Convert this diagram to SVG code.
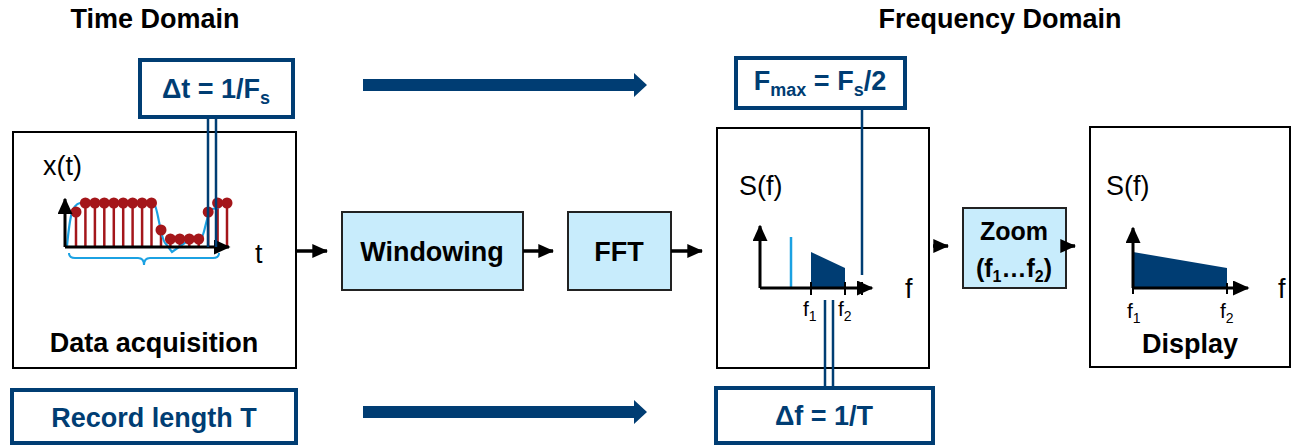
<svg xmlns="http://www.w3.org/2000/svg" width="1293" height="445" viewBox="0 0 1293 445">
<style>
text{font-family:"Liberation Sans",Arial,sans-serif;}
.b{font-weight:bold;}
.lbl{font-size:27px;fill:#000;}
.blue{fill:#003d73;}
.box{fill:#fff;stroke:#000;stroke-width:2;}
.proc{fill:#c8ecfc;stroke:#222;stroke-width:2;}
.note{fill:#fff;stroke:#003d73;stroke-width:4;}
.dl{stroke:#003d73;stroke-width:2.5;fill:none;}
.conn{stroke:#000;stroke-width:3.5;fill:none;}
.ax{stroke:#000;stroke-width:3;fill:none;}
.stem{stroke:#a4161a;stroke-width:2.5;}
.dot{fill:#a4161a;}
</style>
<defs>
<marker id="ah" markerWidth="5.5" markerHeight="5" refX="5" refY="2.5" orient="auto" markerUnits="strokeWidth"><path d="M0,0 L5.5,2.5 L0,5 Z" fill="#000"/></marker>
<marker id="ch" markerWidth="4.5" markerHeight="4" refX="4.2" refY="2" orient="auto" markerUnits="strokeWidth"><path d="M0,0 L4.5,2 L0,4 Z" fill="#000"/></marker>
</defs>

<text class="lbl b" x="155" y="28" text-anchor="middle">Time Domain</text>
<text class="lbl b" x="1000" y="28" text-anchor="middle">Frequency Domain</text>

<g id="big-arrows">
<path d="M363,79 H634 V73 L647,85 L634,97 V91 H363 Z" class="blue"/>
<path d="M363,406 H634 V400 L647,412 L634,424 V418 H363 Z" class="blue"/>
</g>

<g id="data-acquisition">
<rect class="box" x="13" y="132" width="283" height="236"/>
<text class="lbl" x="43" y="175" font-size="27">x(t)</text>
<text class="lbl" x="255" y="263">t</text>
<g>
<line class="stem" x1="76" y1="247" x2="76" y2="212"/>
<line class="stem" x1="85.4" y1="247" x2="85.4" y2="203"/>
<line class="stem" x1="94.9" y1="247" x2="94.9" y2="203"/>
<line class="stem" x1="104.3" y1="247" x2="104.3" y2="203"/>
<line class="stem" x1="113.8" y1="247" x2="113.8" y2="203"/>
<line class="stem" x1="123.2" y1="247" x2="123.2" y2="203"/>
<line class="stem" x1="132.6" y1="247" x2="132.6" y2="203"/>
<line class="stem" x1="142.1" y1="247" x2="142.1" y2="203"/>
<line class="stem" x1="151.5" y1="247" x2="151.5" y2="203"/>
<line class="stem" x1="161" y1="247" x2="161" y2="230"/>
<line class="stem" x1="170.4" y1="247" x2="170.4" y2="239"/>
<line class="stem" x1="179.8" y1="247" x2="179.8" y2="239"/>
<line class="stem" x1="189.3" y1="247" x2="189.3" y2="239"/>
<line class="stem" x1="198.7" y1="247" x2="198.7" y2="239"/>
<line class="stem" x1="208.2" y1="247" x2="208.2" y2="212"/>
<line class="stem" x1="217.6" y1="247" x2="217.6" y2="203"/>
<line class="stem" x1="227" y1="247" x2="227" y2="203"/>
</g>
<path d="M67,246 C70,215 72,205 80,203 L153,202 C158,204 160,240 166,244 L172,252 L186,242 L200,240 C205,238 206,212 212,209 L218,208 C220,204 224,205 229,204" fill="none" stroke="#1ba1e2" stroke-width="2.2"/>
<g>
<circle class="dot" cx="76" cy="212" r="5.5"/>
<circle class="dot" cx="85.4" cy="203" r="5.5"/>
<circle class="dot" cx="94.9" cy="203" r="5.5"/>
<circle class="dot" cx="104.3" cy="203" r="5.5"/>
<circle class="dot" cx="113.8" cy="203" r="5.5"/>
<circle class="dot" cx="123.2" cy="203" r="5.5"/>
<circle class="dot" cx="132.6" cy="203" r="5.5"/>
<circle class="dot" cx="142.1" cy="203" r="5.5"/>
<circle class="dot" cx="151.5" cy="203" r="5.5"/>
<circle class="dot" cx="161" cy="230" r="5.5"/>
<circle class="dot" cx="170.4" cy="239" r="5.5"/>
<circle class="dot" cx="179.8" cy="239" r="5.5"/>
<circle class="dot" cx="189.3" cy="239" r="5.5"/>
<circle class="dot" cx="198.7" cy="239" r="5.5"/>
<circle class="dot" cx="208.2" cy="212" r="5.5"/>
<circle class="dot" cx="217.6" cy="203" r="5.5"/>
<circle class="dot" cx="227" cy="203" r="5.5"/>
</g>
<path class="ax" d="M65,247 H229" marker-end="url(#ah)"/>
<path class="ax" d="M65,247 V199" marker-end="url(#ah)"/>
<path d="M69,253 Q69,258 75,258 L138,258 Q144,258 144,265 Q144,258 150,258 L213,258 Q219,258 219,253" fill="none" stroke="#1ba1e2" stroke-width="2"/>
<text class="lbl b" x="154" y="352" text-anchor="middle">Data acquisition</text>
</g>

<g id="delta-t">
<rect class="note" x="140" y="60" width="153" height="57"/>
<text class="lbl b blue" x="216" y="98" text-anchor="middle">Δt = 1/F<tspan font-size="18" dy="6">s</tspan></text>
<line class="dl" x1="208" y1="117" x2="208" y2="247"/>
<line class="dl" x1="216" y1="117" x2="216" y2="247"/>
</g>

<g id="record-length">
<rect class="note" x="12" y="390" width="284" height="53"/>
<text class="lbl b blue" x="154" y="427" text-anchor="middle">Record length T</text>
</g>

<g id="windowing">
<rect class="proc" x="342" y="212" width="181" height="78"/>
<text class="lbl b" x="432" y="261" text-anchor="middle">Windowing</text>
</g>

<g id="fft">
<rect class="proc" x="568" y="212" width="103" height="78"/>
<text class="lbl b" x="619" y="261" text-anchor="middle">FFT</text>
</g>

<g id="spectrum">
<rect class="box" x="717" y="128" width="212" height="240"/>
<text class="lbl" x="739" y="195">S(f)</text>
<line x1="791" y1="237" x2="791" y2="288" stroke="#1ba1e2" stroke-width="2.5"/>
<path d="M811,252 L845,268 L845,288 L811,288 Z" fill="#003d73"/>
<path class="ax" d="M760,288 H872" marker-end="url(#ah)"/>
<path class="ax" d="M760,288 V226" marker-end="url(#ah)"/>
<line x1="811" y1="282" x2="811" y2="295" stroke="#000" stroke-width="2"/>
<line x1="845" y1="282" x2="845" y2="295" stroke="#000" stroke-width="2"/>
<line x1="862" y1="282" x2="862" y2="295" stroke="#000" stroke-width="2"/>
<text class="lbl" x="905" y="298">f</text>
<text x="803" y="316" font-size="21">f<tspan font-size="14" dy="5">1</tspan></text>
<text x="838" y="316" font-size="21">f<tspan font-size="14" dy="5">2</tspan></text>
</g>

<g id="fmax">
<rect class="note" x="736" y="58" width="169" height="50"/>
<text class="lbl b blue" x="820" y="90" text-anchor="middle">F<tspan font-size="18" dy="6">max</tspan><tspan dy="-6"> = F</tspan><tspan font-size="18" dy="6">s</tspan><tspan dy="-6">/2</tspan></text>
<line class="dl" x1="862" y1="108" x2="862" y2="275"/>
</g>

<g id="delta-f">
<rect class="note" x="716" y="388" width="217" height="55"/>
<text class="lbl b blue" x="824" y="425" text-anchor="middle">Δf = 1/T</text>
<line class="dl" x1="825" y1="300" x2="825" y2="388"/>
<line class="dl" x1="833" y1="300" x2="833" y2="388"/>
</g>

<g id="zoom">
<rect class="proc" x="963" y="208" width="103" height="80"/>
<text x="1014" y="240" font-size="25" class="b" text-anchor="middle">Zoom</text>
<text x="1014" y="277" font-size="25" class="b" text-anchor="middle">(f<tspan font-size="16" dy="5">1</tspan><tspan dy="-5">…f</tspan><tspan font-size="16" dy="5">2</tspan><tspan dy="-5">)</tspan></text>
</g>

<g id="display">
<rect class="box" x="1090" y="127" width="200" height="240"/>
<text class="lbl" x="1106" y="195">S(f)</text>
<path d="M1133,252 L1227,268 L1227,288 L1133,288 Z" fill="#003d73"/>
<path class="ax" d="M1133,288 H1248" marker-end="url(#ah)"/>
<path class="ax" d="M1133,288 V228" marker-end="url(#ah)"/>
<line x1="1133" y1="283" x2="1133" y2="294" stroke="#000" stroke-width="2"/>
<line x1="1227" y1="283" x2="1227" y2="294" stroke="#000" stroke-width="2"/>
<text class="lbl" x="1278" y="298">f</text>
<text x="1127" y="318" font-size="21">f<tspan font-size="14" dy="5">1</tspan></text>
<text x="1220" y="318" font-size="21">f<tspan font-size="14" dy="5">2</tspan></text>
<text class="lbl b" x="1190" y="353" text-anchor="middle">Display</text>
</g>

<g id="connectors">
<path class="conn" d="M296,251 H327" marker-end="url(#ch)"/>
<path class="conn" d="M523,251 H553" marker-end="url(#ch)"/>
<path class="conn" d="M671,251 H702" marker-end="url(#ch)"/>
<path class="conn" d="M933,246 H948" marker-end="url(#ch)"/>
<path class="conn" d="M1066,246 H1075" marker-end="url(#ch)"/>
</g>
</svg>
